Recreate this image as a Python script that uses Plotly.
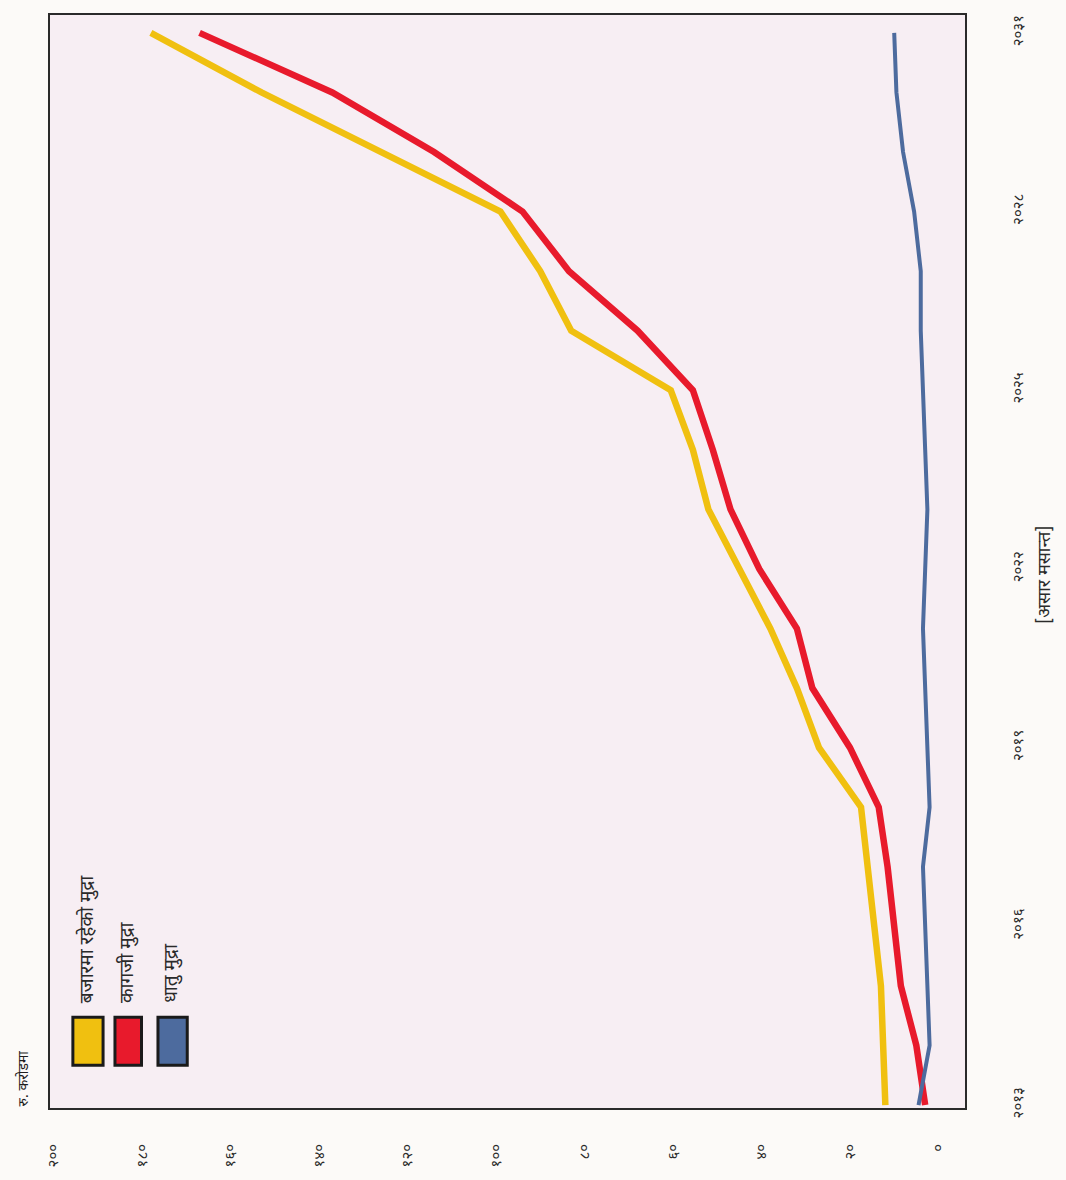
import plotly.graph_objects as go

# Fiscal years (Bikram Sambat, end of Asar)
years = list(range(2013, 2032))

# Rupees in crore
currency_in_circulation = [12, 12.5, 13, 14.5, 16, 17.5, 27, 32, 38, 45, 52, 55.5, 60.5, 83, 90, 99, 126, 153, 178]
paper_currency = [3, 5, 8.5, 10, 11.5, 13.5, 20, 28.5, 32, 40.5, 47, 51, 55.5, 68, 83.5, 94, 114, 137, 167]
metal_currency = [4.5, 2, 2.5, 3, 3.5, 2, 2.5, 3, 3.5, 3, 2.5, 3, 3.5, 4, 4, 5.5, 8, 9.5, 10]

value_ticks = [0, 20, 40, 60, 80, 100, 120, 140, 160, 180, 200]
value_labels = ["०", "२०", "४०", "६०", "८०", "१००", "१२०", "१४०", "१६०", "१८०", "२००"]
year_ticks = [2013, 2016, 2019, 2022, 2025, 2028, 2031]
year_labels = ["२०१३", "२०१६", "२०१९", "२०२२", "२०२५", "२०२८", "२०३१"]

series_names = ["बजारमा रहेको मुद्रा", "कागजी मुद्रा", "धातु मुद्रा"]
series_colors = ["#f0c010", "#e81a2c", "#4d6b9e"]
series_widths = [6.5, 6.5, 4]

DEV_FONT = "Noto Sans Devanagari, Lohit Devanagari, Mangal, sans-serif"
TEXT_COLOR = "#2a2a2a"

fig = go.Figure()
for name, vals, color, w in zip(series_names,
                                [currency_in_circulation, paper_currency, metal_currency],
                                series_colors, series_widths):
    # the chart is laid out on its side: values run along x, years along y
    fig.add_trace(go.Scatter(x=vals, y=years, mode="lines", name=name,
                             line=dict(color=color, width=w), showlegend=False))

# legend drawn as rotated swatches and captions inside the bottom-left corner
swatch_x = [(0.025, 0.058), (0.071, 0.100), (0.118, 0.150)]
label_x = [0.041, 0.085, 0.134]
for (x0, x1), lx, color, name in zip(swatch_x, label_x, series_colors, series_names):
    fig.add_shape(type="rect", xref="paper", yref="paper", x0=x0, x1=x1,
                  y0=0.039, y1=0.083, fillcolor=color,
                  line=dict(color="#1a1a1a", width=3))
    fig.add_annotation(xref="paper", yref="paper", x=lx, y=0.094, text=name,
                       textangle=-90, showarrow=False, xanchor="center", yanchor="bottom",
                       font=dict(size=19, color=TEXT_COLOR, family=DEV_FONT))

fig.add_annotation(xref="paper", yref="paper", x=-0.028, y=0.0, text="रु. करोडमा",
                   textangle=-90, showarrow=False, xanchor="center", yanchor="bottom",
                   font=dict(size=14, color="#1e1e1e", family=DEV_FONT))
fig.add_annotation(xref="paper", yref="paper", x=1.088, y=0.488, text="[असार मसान्त]",
                   textangle=-90, showarrow=False, xanchor="center", yanchor="middle",
                   font=dict(size=18, color=TEXT_COLOR, family=DEV_FONT))

fig.update_layout(
    width=1066, height=1180,
    margin=dict(l=50, r=101, t=15, b=72),
    paper_bgcolor="#fcfaf8",
    plot_bgcolor="#f7eef3",
    font=dict(family=DEV_FONT, color=TEXT_COLOR, size=15),
    xaxis=dict(range=[200.8, -6], tickvals=value_ticks, ticktext=value_labels,
               tickangle=-90, showgrid=False, zeroline=False, ticks="",
               showline=True, mirror=True, linecolor="#2a2a2a", linewidth=2,
               ticklabelstandoff=28, tickfont=dict(size=15, color=TEXT_COLOR)),
    yaxis=dict(range=[2012.95, 2031.3], tickvals=year_ticks, ticktext=year_labels,
               side="right", tickangle=-90, showgrid=False, zeroline=False, ticks="",
               showline=True, mirror=True, linecolor="#2a2a2a", linewidth=2,
               ticklabelstandoff=38, tickfont=dict(size=15, color=TEXT_COLOR)),
)

fig.write_html("out.html")
